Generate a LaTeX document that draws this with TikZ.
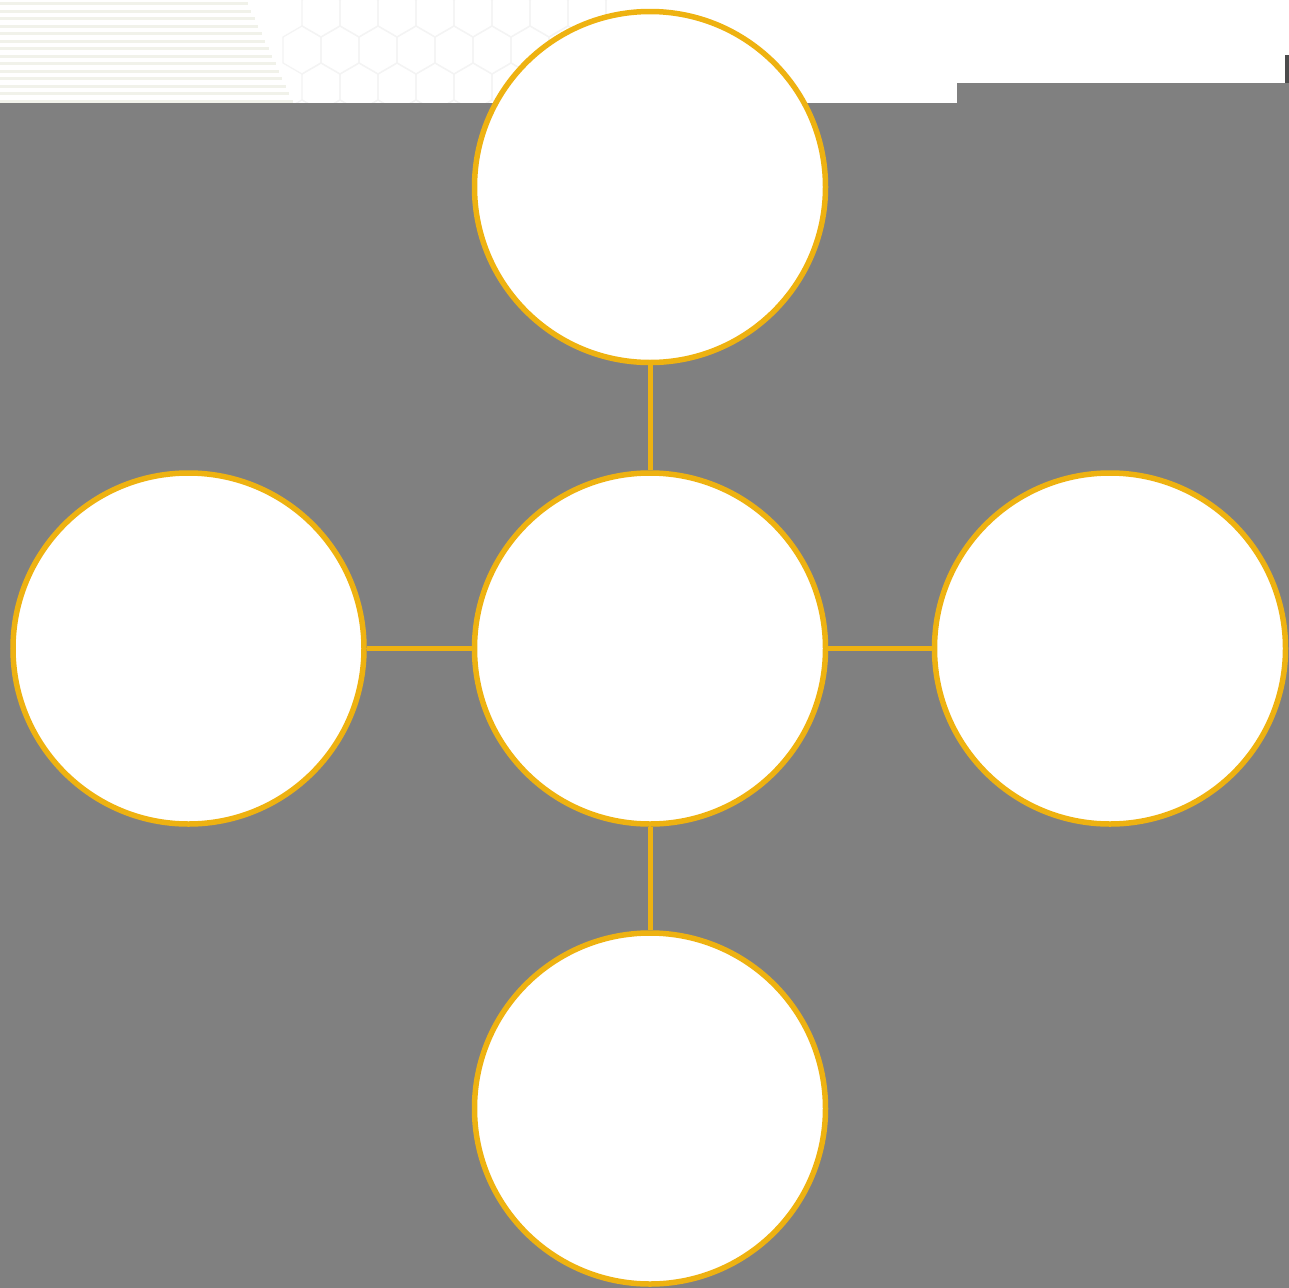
\documentclass[tikz,border=0pt]{standalone}
\usetikzlibrary{shapes.geometric}
\definecolor{gold}{RGB}{238,178,17}
\definecolor{bggray}{RGB}{128,128,128}
\definecolor{stripe}{RGB}{241,242,234}
\definecolor{hexline}{RGB}{244,244,244}
\tikzset{
  bubble/.style={circle, draw=gold, fill=white, line width=5.5pt, inner sep=0pt, minimum size=351pt},
  link/.style={draw=gold, line width=5pt}
}
\begin{document}
\begin{tikzpicture}[x=1pt,y=-1pt]
\useasboundingbox (0,0) rectangle (1288,1288);
\fill[white] (-5,-5) rectangle (1295,1295);
% faint stripes
\foreach \k in {0,...,13}{
  \pgfmathsetmacro{\yy}{2+7.5*\k}
  \pgfmathsetmacro{\xx}{247+0.46*\yy}
  \fill[stripe] (-5,\yy) rectangle (\xx,\yy+3);
}
% faint hexagons
\begin{scope}
\clip (250,0) -- (610,0) -- (610,103) -- (295,103) -- cycle;
\foreach \r in {-1,0,1,2}{
  \foreach \c in {0,...,9}{
    \pgfmathsetmacro{\cx}{302+38*\c+19*mod(\r+2,2)}
    \pgfmathsetmacro{\cy}{50+37*\r}
    \draw[hexline, line width=1.2pt] (\cx,\cy-24) -- (\cx+19,\cy-13) -- (\cx+19,\cy+13) -- (\cx,\cy+24) -- (\cx-19,\cy+13) -- (\cx-19,\cy-13) -- cycle;
  }
}
\end{scope}
% gray background
\fill[bggray] (-5,103) -- (957,103) -- (957,83) -- (1295,83) -- (1295,1295) -- (-5,1295) -- cycle;
\fill[black!70] (1285,55) rectangle (1295,83);
% nodes
\node[bubble] (top) at (650,187) {};
\node[bubble] (ctr) at (650,648.5) {};
\node[bubble] (lft) at (188.5,648.5) {};
\node[bubble] (rgt) at (1110,648.5) {};
\node[bubble] (bot) at (650,1108.5) {};
% connectors
\draw[link] (top) -- (ctr);
\draw[link] (ctr) -- (bot);
\draw[link] (lft) -- (ctr);
\draw[link] (ctr) -- (rgt);
\end{tikzpicture}
\end{document}
